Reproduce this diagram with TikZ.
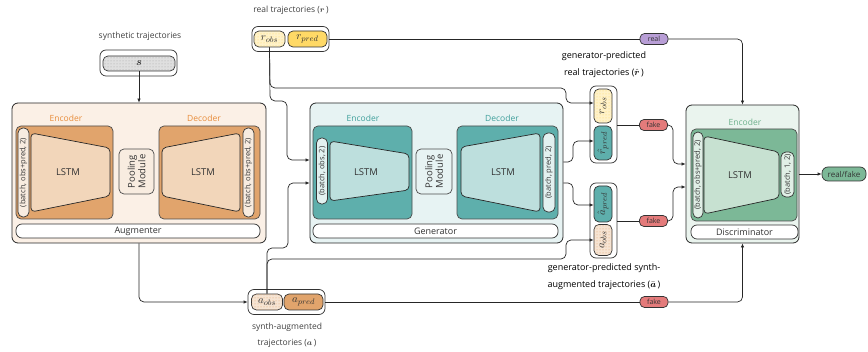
\documentclass[tikz,border=0pt]{standalone}
\usepackage{amsmath}
\usepackage{fontspec}
\setmainfont{Open Sans}
\usetikzlibrary{patterns,arrows.meta}

\definecolor{augbg}{HTML}{FBF0E6}
\definecolor{augbox}{HTML}{E1A46C}
\definecolor{auglstm}{HTML}{F2D6BA}
\definecolor{augpill}{HTML}{F8ECE0}
\definecolor{augtext}{HTML}{E88C3A}
\definecolor{genbg}{HTML}{E7F3F3}
\definecolor{genbox}{HTML}{5EAFAC}
\definecolor{genlstm}{HTML}{BDDFDD}
\definecolor{genpill}{HTML}{E2F1F0}
\definecolor{gentext}{HTML}{3E9F9B}
\definecolor{disbg}{HTML}{EAF4EE}
\definecolor{disbox}{HTML}{7CB897}
\definecolor{dislstm}{HTML}{C7E1D1}
\definecolor{dispill}{HTML}{E0EFE6}
\definecolor{distext}{HTML}{6DB08B}
\definecolor{realyel}{HTML}{FFD966}
\definecolor{fakered}{HTML}{E47B7B}
\definecolor{realpur}{HTML}{B89ED6}

\tikzstyle{every node}=[font=\fontsize{8.5}{10}\selectfont, text=black!80, inner sep=0pt]
\tikzstyle{panel} = [rectangle, rounded corners=6pt, draw=black!85, line width=0.8pt]
\tikzstyle{block} = [rectangle, rounded corners=5pt, draw=black!70, line width=0.7pt]
\tikzstyle{pill} = [rectangle, rounded corners=5pt, draw=black!80, line width=0.7pt]
\tikzstyle{vpill} = [pill, rotate=90, font=\fontsize{7.5}{8}\selectfont]
\tikzstyle{traj} = [pill, font=\fontsize{11}{12}\selectfont]
\tikzstyle{pool} = [block, rotate=90, align=center, font=\fontsize{9.5}{10.5}\selectfont]
\tikzstyle{lstmbody} = [rounded corners=4pt, draw=black!85, line width=0.7pt]
\tikzstyle{lstmtext} = [font=\fontsize{9.5}{10}\selectfont]
\tikzstyle{namepill} = [pill, minimum height=14pt, rounded corners=6pt, font=\fontsize{9}{10}\selectfont]
\tikzstyle{tag} = [pill, rounded corners=4.5pt, minimum width=28pt, minimum height=11pt, font=\fontsize{7}{8}\selectfont]
\tikzstyle{group} = [pill, fill=white, rounded corners=6pt]
\tikzstyle{caption} = [text=black!75, align=center]
\tikzstyle{predcaption} = [caption, text=black, font=\fontsize{9}{10}\selectfont]
\tikzstyle{link} = [draw=black!85, line width=0.7pt, rounded corners=5pt]
\tikzstyle{arr} = [link, -{Latex[length=4pt,width=3.5pt]}]

\begin{document}
\begin{tikzpicture}[x=1pt, y=-1pt]
	\useasboundingbox (0,0) rectangle (868,352);

	% synthetic input
	\node[caption] (synlabel) at (140,36) {synthetic trajectories};
	\node[group, minimum width=77pt, minimum height=26pt] (sgroup) at (138.5,63) {};
	\node[traj, fill=gray!25, postaction={pattern=dots, pattern color=gray!70}, minimum width=72pt, minimum height=15pt] (spill) at (139,63.5) {$\boldsymbol{s}$};

	% augmenter
	\node[panel, fill=augbg, minimum width=254pt, minimum height=140pt] (aug) at (139,173) {};
	\node[text=augtext] (augenclabel) at (66,118) {Encoder};
	\node[text=augtext] (augdeclabel) at (204,118) {Decoder};
	\node[block, fill=augbox, minimum width=97pt, minimum height=93pt] (augenc) at (64.5,172.5) {};
	\node[block, fill=augbox, minimum width=101pt, minimum height=93pt] (augdec) at (209.5,172.5) {};
	\node[vpill, fill=augpill, minimum width=89pt, minimum height=11pt] (augin) at (23.5,172.5) {(batch, obs+pred, 2)};
	\draw[lstmbody, fill=auglstm] (31,133) -- (110,148) -- (110,196) -- (31,212) -- cycle;
	\node[lstmtext] (auglstmenc) at (68,172) {LSTM};
	\node[pool, fill=augpill, minimum width=45pt, minimum height=35pt] (augpool) at (136.5,171.5) {Pooling\\Module};
	\draw[lstmbody, fill=auglstm] (162,148) -- (240,133) -- (240,212) -- (162,196) -- cycle;
	\node[lstmtext] (auglstmdec) at (203,172) {LSTM};
	\node[vpill, fill=augpill, minimum width=89pt, minimum height=11pt] (augout) at (248.5,172.5) {(batch, obs+pred, 2)};
	\node[namepill, fill=white, minimum width=244pt] (augname) at (138,231) {Augmenter};

	% generator
	\node[panel, fill=genbg, minimum width=253pt, minimum height=140pt] (gen) at (436.5,173) {};
	\node[text=gentext] (genenclabel) at (363,118) {Encoder};
	\node[text=gentext] (gendeclabel) at (502,118) {Decoder};
	\node[block, fill=genbox, minimum width=99pt, minimum height=93pt] (genenc) at (362.5,172.5) {};
	\node[block, fill=genbox, minimum width=101pt, minimum height=93pt] (gendec) at (507.5,172.5) {};
	\node[vpill, fill=genpill, minimum width=66pt, minimum height=11pt] (genin) at (322,171) {(batch, obs, 2)};
	\draw[lstmbody, fill=genlstm] (330,141) -- (409,154) -- (409,190) -- (330,201) -- cycle;
	\node[lstmtext] (genlstmenc) at (366,172) {LSTM};
	\node[pool, fill=genbg, minimum width=45pt, minimum height=36pt] (genpool) at (434,171.5) {Pooling\\Module};
	\draw[lstmbody, fill=genlstm] (461,147) -- (540,133) -- (540,212) -- (461,196) -- cycle;
	\node[lstmtext] (genlstmdec) at (503,172) {LSTM};
	\node[vpill, fill=genpill, minimum width=79pt, minimum height=12pt] (genout) at (549,172.5) {(batch, pred, 2)};
	\node[namepill, fill=white, minimum width=245pt] (genname) at (435.5,231) {Generator};

	% discriminator
	\node[panel, fill=disbg, minimum width=113pt, minimum height=138pt] (dis) at (742.5,174) {};
	\node[text=distext] (disenclabel) at (745,122) {Encoder};
	\node[block, fill=disbox, minimum width=106pt, minimum height=92pt] (disenc) at (744,175) {};
	\node[vpill, fill=dispill, minimum width=86pt, minimum height=10pt] (disin) at (698,175) {(batch, obs+pred, 2)};
	\draw[lstmbody, fill=dislstm] (704,136) -- (779,152) -- (779,198) -- (704,214) -- cycle;
	\node[lstmtext] (dislstm) at (740,175) {LSTM};
	\node[vpill, fill=dispill, minimum width=45pt, minimum height=13pt] (disout) at (787.5,174.5) {(batch, 1, 2)};
	\node[namepill, fill=white, minimum width=107pt] (disname) at (744.5,232) {Discriminator};
	\node[pill, fill=disbox, minimum width=44pt, minimum height=14pt, rounded corners=6pt, font=\fontsize{8}{9}\selectfont] (rf) at (844,174) {real/fake};

	% real trajectories
	\node[caption] (reallabel) at (291,10) {real trajectories ($\boldsymbol{r}$\,)};
	\node[group, minimum width=77pt, minimum height=25pt] (rgroup) at (290.5,39) {};
	\node[traj, fill=realyel!35, postaction={pattern=dots, pattern color=realyel}, minimum width=31pt, minimum height=16pt] (robs) at (269.5,39) {$r_{obs}$};
	\node[traj, fill=realyel, minimum width=39pt, minimum height=16pt] (rpred) at (307.5,39) {$r_{pred}$};

	% synth-augmented trajectories
	\node[group, minimum width=77pt, minimum height=25pt] (agroup) at (286.5,302) {};
	\node[traj, fill=augbox!30, postaction={pattern=dots, pattern color=augbox}, minimum width=31pt, minimum height=16pt] (aobs) at (267,302) {$a_{obs}$};
	\node[traj, fill=augbox, minimum width=39pt, minimum height=16pt] (apred) at (303.5,302) {$a_{pred}$};
	\node[caption] (alabel1) at (287,327) {synth-augmented};
	\node[caption] (alabel2) at (287,343) {trajectories ($\boldsymbol{a}$\,)};

	% generator predictions
	\node[predcaption] (rhlabel1) at (604,56) {generator-predicted};
	\node[predcaption] (rhlabel2) at (604,73) {real trajectories ($\hat{\boldsymbol{r}}$\,)};
	\node[group, minimum width=27pt, minimum height=77pt] (rhgroup) at (603.5,124.5) {};
	\node[vpill, traj, fill=realyel!35, postaction={pattern=dots, pattern color=realyel}, minimum width=34pt, minimum height=18pt] (rhobs) at (603,106) {$r_{obs}$};
	\node[vpill, traj, fill=genbox, minimum width=34pt, minimum height=18pt] (rhpred) at (603,143) {$\hat{r}_{pred}$};

	\node[group, minimum width=27pt, minimum height=75pt] (ahgroup) at (603.5,220.5) {};
	\node[vpill, traj, fill=genbox, minimum width=36pt, minimum height=18pt] (ahpred) at (603,204) {$\hat{a}_{pred}$};
	\node[vpill, traj, fill=augbox!30, postaction={pattern=dots, pattern color=augbox}, minimum width=31pt, minimum height=18pt] (ahobs) at (603,240) {$a_{obs}$};
	\node[predcaption] (ahlabel1) at (604,268) {generator-predicted synth-};
	\node[predcaption] (ahlabel2) at (604,285) {augmented trajectories ($\bar{\boldsymbol{a}}$\,)};

	% real / fake tags
	\node[tag, fill=realpur] (realtag) at (654,39) {real};
	\node[tag, fill=fakered] (fake1) at (653.5,125) {fake};
	\node[tag, fill=fakered] (fake2) at (653.5,221) {fake};
	\node[tag, fill=fakered] (fake3) at (654,302) {fake};

	% connections
	\draw[arr] (spill.south) -- (aug.north);
	\draw[arr] (aug.south) |- (agroup.west);
	\draw[arr] (robs.south) -- (270,101) -- (287,101) -- (287,160) -- ([yshift=13pt]gen.west);
	\draw[arr] (robs.south) -- (270,88) -- (566,88) -- (566,103) -- (rhobs.north |- 0,103);
	\draw[arr] (aobs.north) -- (267,248) -- (288,248) -- (288,183) -- ([yshift=-10pt]gen.west);
	\draw[arr] (aobs.north) -- (267,259) -- (566,259) -- (566,240) -- (ahobs.north);
	\draw[arr] ([yshift=11pt]gen.east) -- (573,162) -- (573,141) -- (rhpred.north |- 0,141);
	\draw[arr] ([yshift=-10pt]gen.east) -- (573,183) -- (573,205) -- (ahpred.north |- 0,205);
	\draw[link] (rgroup.east) -- (realtag.west);
	\draw[arr] (realtag.east) -| (dis.north);
	\draw[link] (rhgroup.east |- fake1) -- (fake1.west);
	\draw[arr] (fake1.east) -- (673,125) -- (673,164) -- ([yshift=10pt]dis.west);
	\draw[link] (ahgroup.east |- fake2) -- (fake2.west);
	\draw[arr] (fake2.east) -- (673,221) -- (673,187) -- ([yshift=-13pt]dis.west);
	\draw[link] (agroup.east) -- (fake3.west);
	\draw[arr] (fake3.east) -| (dis.south);
	\draw[arr] (dis.east) -- (rf.west);
\end{tikzpicture}
\end{document}
